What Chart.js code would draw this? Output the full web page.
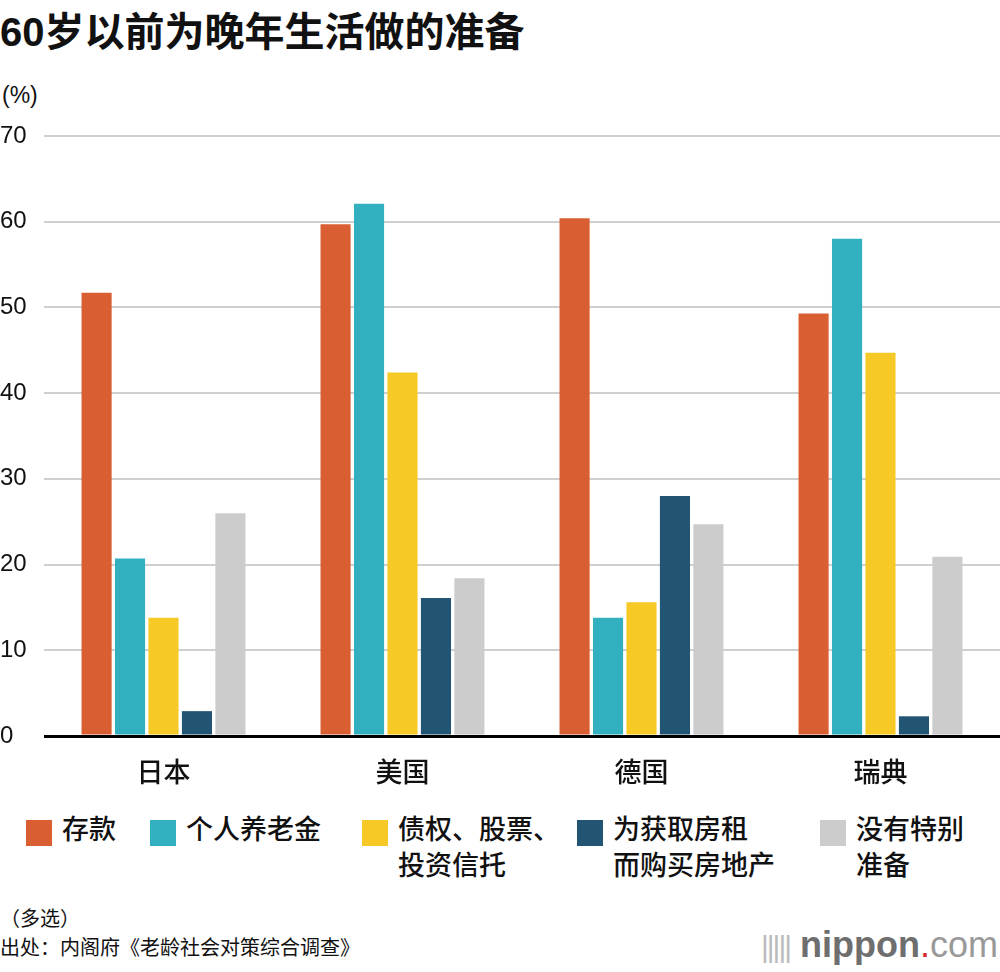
<!DOCTYPE html>
<html>
<head>
<meta charset="utf-8">
<script src="https://cdn.jsdelivr.net/npm/chart.js@4"></script>
<style>
  body { margin: 0; background: #fff; font-family: "Liberation Sans", "Noto Sans CJK SC", sans-serif; color: #111; }
  #page { position: relative; width: 1000px; height: 972px; overflow: hidden; }
  #title { position: absolute; left: 0; top: 0px; font-size: 40px; font-weight: bold; font-family: "Liberation Sans", "Noto Sans CJK SC", sans-serif; }
  #unit { position: absolute; left: 2px; top: 82px; font-size: 23px; }
  #box { position: absolute; left: 0; top: 100px; width: 1000px; height: 700px; }
  #legend { position: absolute; top: 814px; left: 0; width: 1000px; font-size: 27px; font-weight: 500; font-family: "Noto Sans CJK SC", sans-serif; }
  .item { position: absolute; top: 0; line-height: 36px; }
  .sw { position: absolute; left: 0; top: 6px; width: 26px; height: 26px; }
  .lab { position: absolute; left: 36px; top: -4px; white-space: nowrap; }
  #note { position: absolute; left: 0; top: 903px; font-size: 20px; line-height: 29px; font-family: "Noto Sans CJK SC", sans-serif; }
  #logo { position: absolute; right: 2px; top: 924px; font-size: 36px; color: #6e6e6e; font-family: "Liberation Sans", sans-serif; }
  #logo .bars { color: #bbb; font-size: 30px; letter-spacing: -2px; }
  #logo .dot { color: #d62b2b; }
  #logo .com { color: #999; }
</style>
</head>
<body>
<div id="page">
  <div id="title">60岁以前为晚年生活做的准备</div>
  <div id="unit">(%)</div>
  <div id="box"><canvas id="myChart"></canvas></div>
  <div id="legend"></div>
  <div id="note">（多选）<br>出处：内阁府《老龄社会对策综合调查》</div>
  <div id="logo"><span class="bars">|||||</span> <b>nippon</b><span class="dot">.</span><span class="com">com</span></div>
</div>
<script>
// 数据
const countries = ['日本', '美国', '德国', '瑞典'];
const seriesNames = ['存款', '个人养老金', '债权、股票、\n投资信托', '为获取房租\n而购买房地产', '没有特别\n准备'];
const savings  = [51.7, 59.7, 60.4, 49.3];
const pension  = [20.7, 62.1, 13.8, 58.0];
const stocks   = [13.8, 42.4, 15.6, 44.7];
const property = [2.9, 16.1, 28.0, 2.3];
const nothing  = [26.0, 18.4, 24.7, 20.9];
const yTicks = [0, 10, 20, 30, 40, 50, 60, 70];

const colors = ['#d95f33', '#33b0bf', '#f7c927', '#225574', '#cccccc'];
const allData = [savings, pension, stocks, property, nothing];

// legend
const legendX = [26, 150, 362, 577, 820];
const legend = document.getElementById('legend');
seriesNames.forEach((name, i) => {
    const it = document.createElement('div');
    it.className = 'item';
    it.style.left = legendX[i] + 'px';
    it.innerHTML = '<div class="sw" style="background:' + colors[i] + '"></div><div class="lab">' + name.replace('\n', '<br>') + '</div>';
    legend.appendChild(it);
});

const ctx = document.getElementById('myChart');

new Chart(ctx, {
    type: 'bar',
    data: {
        labels: countries,
        datasets: allData.map((d, i) => ({
            label: seriesNames[i],
            data: d,
            backgroundColor: colors[i],
            categoryPercentage: 0.7,
            barPercentage: 0.9
        }))
    },
    options: {
        responsive: true,
        maintainAspectRatio: false,
        animation: false,
        layout: { padding: { top: 36, right: 0, left: 0, bottom: 0 } },
        plugins: { legend: { display: false }, tooltip: { enabled: false } },
        scales: {
            x: {
                grid: { display: false, drawTicks: false },
                border: { display: false },
                ticks: { color: '#111', font: { size: 27, weight: 500, family: '"Noto Sans CJK SC", sans-serif' }, padding: 20 },
                afterFit: (s) => { s.height = 64; }
            },
            y: {
                min: 0,
                max: 70,
                afterBuildTicks: (s) => { s.ticks = yTicks.map(v => ({ value: v })); },
                afterFit: (s) => { s.width = 44; },
                grid: {
                    drawTicks: false,
                    color: (c) => c.tick && c.tick.value === 0 ? '#000' : '#cfcfcf',
                    lineWidth: (c) => c.tick && c.tick.value === 0 ? 3 : 2
                },
                border: { display: false },
                ticks: {
                    color: '#111',
                    crossAlign: 'far',
                    padding: 0,
                    font: { size: 24, family: '"Liberation Sans", sans-serif' }
                }
            }
        }
    }
});
</script>
</body>
</html>
